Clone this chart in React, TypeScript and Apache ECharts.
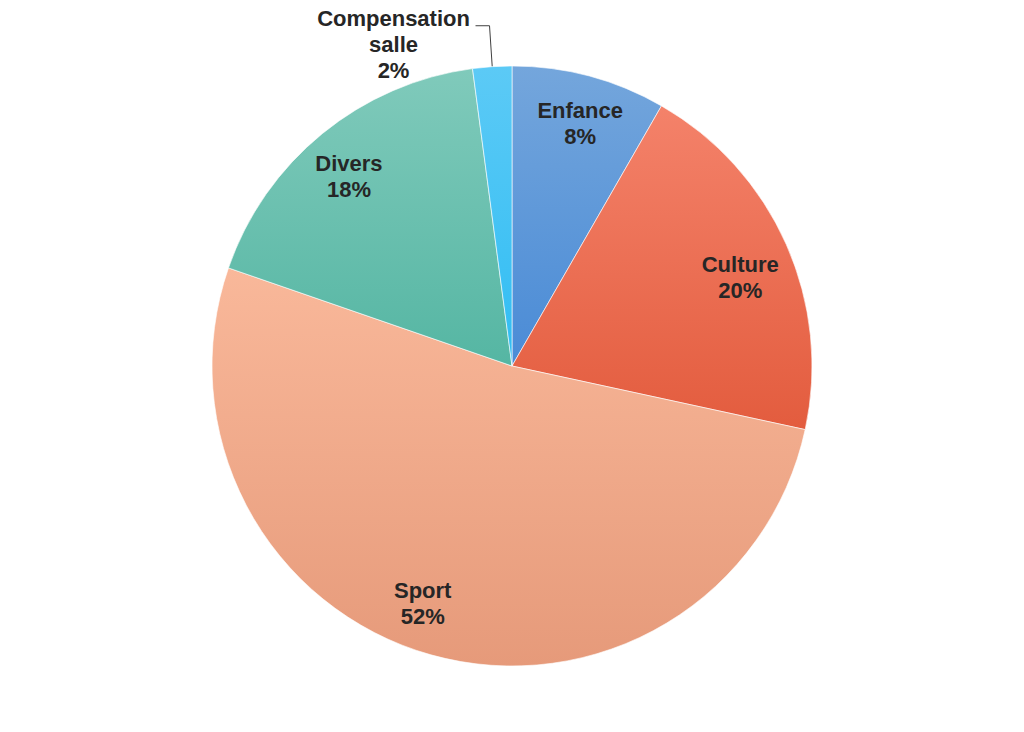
import { useEffect, useRef } from "react";
import * as echarts from "echarts";

const categories = ["Enfance", "Culture", "Sport", "Divers", "Compensation salle"];
const shares = [8.3, 20.1, 51.9, 17.6, 2.1];
const topColors = ["#74a6dc", "#f4826a", "#f9b89a", "#80cabb", "#5ccaf6"];
const bottomColors = ["#4a8bd6", "#e35c3e", "#e69a7a", "#55b6a3", "#30bdf3"];
// small nudges so the inside labels sit where the original put them
const labelNudges = [
  [3, 2],
  [-3, 14],
  [-21, -6],
  [-3, 6],
  [0, 0],
];
// the small slice gets its label outside, with a leader line
const outsideLabels = ["Compensation salle"];

const grad = (i: number) =>
  new echarts.graphic.LinearGradient(0, 0, 0, 1, [
    { offset: 0, color: topColors[i] },
    { offset: 1, color: bottomColors[i] },
  ]);

const labelText = (p: any) => `${p.name}\n${Math.round(p.percent)}%`;

export default function App() {
  const ref = useRef<HTMLDivElement | null>(null);

  useEffect(() => {
    if (!ref.current) return;
    const chart = echarts.init(ref.current, undefined, { renderer: "svg" });

    const font = {
      fontFamily: "Liberation Sans, Arial, sans-serif",
      fontWeight: "bold" as const,
      fontSize: 22,
      color: "#262626",
      lineHeight: 26,
    };

    chart.setOption({
      animation: false,
      backgroundColor: "#ffffff",
      series: [
        {
          type: "pie",
          center: [512, 366],
          radius: [0, 300],
          startAngle: 90,
          clockwise: true,
          avoidLabelOverlap: false,
          silent: true,
          itemStyle: { borderColor: "rgba(255,255,255,0.6)", borderWidth: 1 },
          labelLine: {
            show: true,
            length: 41,
            length2: 14,
            lineStyle: { color: "#404040", width: 1 },
          },
          data: categories.map((name, i) => {
            const outside = outsideLabels.includes(name);
            return {
              name,
              value: shares[i],
              itemStyle: { color: grad(i) },
              label: outside
                ? {
                    show: true,
                    position: "outside",
                    distanceToLabelLine: 2,
                    padding: [38, 0, 0, 0],
                    formatter: (p: any) =>
                      p.name
                        .split(" ")
                        .concat([`${Math.round(p.percent)}%`])
                        .map((t: string) => `{c|${t}}`)
                        .join("\n"),
                    rich: { c: { ...font, width: 160, align: "center" } },
                  }
                : { show: false },
              labelLine: { show: outside },
            };
          }),
        },
        {
          // transparent ring that only carries the inside labels
          type: "pie",
          center: [512, 366],
          radius: [200, 300],
          startAngle: 90,
          clockwise: true,
          silent: true,
          itemStyle: { color: "rgba(0,0,0,0)" },
          labelLine: { show: false },
          data: categories.map((name, i) => ({
            name,
            value: shares[i],
            label: {
              show: !outsideLabels.includes(name),
              position: "inside",
              formatter: labelText,
              offset: labelNudges[i],
              ...font,
            },
          })),
        },
      ],
    });

    return () => chart.dispose();
  }, []);

  return (
    <div
      ref={ref}
      style={{ position: "fixed", left: 0, top: 0, width: 1024, height: 732, background: "#fff" }}
    />
  );
}
